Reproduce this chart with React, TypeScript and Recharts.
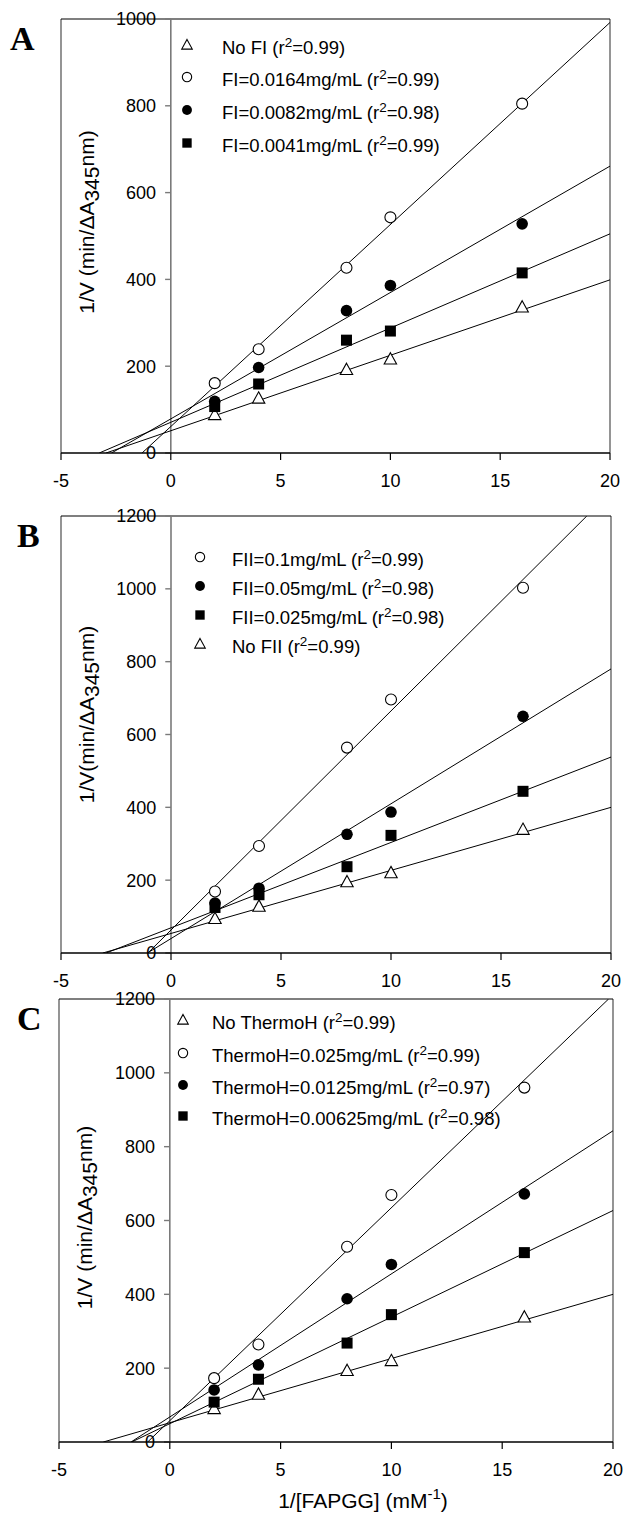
import React from 'react';
import { ComposedChart, Scatter, XAxis, YAxis, ReferenceLine } from 'recharts';

const FONT = '"Liberation Sans", Arial, Helvetica, sans-serif';
const SERIF = '"Liberation Serif", "Times New Roman", serif';

// substrate: 1/[FAPGG] (mM^-1)
const substrate = [2, 4, 8, 10, 16];
const xTicks = [-5, 0, 5, 10, 15, 20];
const yTicks1000 = [0, 200, 400, 600, 800, 1000];
const yTicks1200 = [0, 200, 400, 600, 800, 1000, 1200];

// Panel A - FI
const noFI = [88, 126, 192, 216, 336];
const fi0164 = [161, 239, 427, 543, 805];
const fi0082 = [119, 197, 328, 386, 528];
const fi0041 = [107, 159, 260, 281, 415];
const fitNoFI = [[-2.95, 0], [20, 399]];
const fitFI0164 = [[-1.31, 0], [20, 992]];
const fitFI0082 = [[-2.7, 0], [20, 661]];
const fitFI0041 = [[-3.26, 0], [20, 505]];

// Panel B - FII
const fii01 = [169, 294, 564, 696, 1003];
const fii005 = [137, 178, 326, 387, 650];
const fii0025 = [125, 160, 237, 323, 444];
const noFII = [94, 128, 195, 220, 339];
const fitFII01 = [[-1.05, 0], [18.9, 1200]];
const fitFII005 = [[-1.07, 0], [20, 780]];
const fitFII0025 = [[-2.95, 0], [20, 538]];
const fitNoFII = [[-3.1, 0], [20, 400]];

// Panel C - ThermoH
const noThermo = [90, 129, 193, 220, 338];
const thermo025 = [173, 264, 529, 669, 960];
const thermo0125 = [141, 209, 388, 481, 672];
const thermo00625 = [108, 170, 268, 345, 513];
const fitNoThermo = [[-3.0, 0], [20, 400]];
const fitThermo025 = [[-1.0, 0], [19.8, 1200]];
const fitThermo0125 = [[-1.75, 0], [20, 843]];
const fitThermo00625 = [[-1.72, 0], [20, 627]];

type Kind = 'triangle' | 'circle' | 'disc' | 'square';

interface SeriesDef {
  name: string;
  r2: string;
  kind: Kind;
  values: number[];
  fit: number[][];
}

const toPoints = (values: number[]) => substrate.map((x, i) => ({ x, y: values[i] }));
const toFit = (pts: number[][]) => pts.map(([x, y]) => ({ x, y }));

function Marker({ kind, cx, cy, s = 1 }: { kind: Kind; cx: number; cy: number; s?: number }) {
  if (kind === 'triangle') {
    return (
      <path
        d={`M${cx},${cy - 6.5 * s} L${cx + 6.2 * s},${cy + 4.8 * s} L${cx - 6.2 * s},${cy + 4.8 * s} Z`}
        fill="#fff"
        stroke="#000"
        strokeWidth={1.1}
      />
    );
  }
  if (kind === 'circle') {
    return <circle cx={cx} cy={cy} r={5.5 * s} fill="#fff" stroke="#000" strokeWidth={1.1} />;
  }
  if (kind === 'disc') {
    return <circle cx={cx} cy={cy} r={5.8 * s} fill="#000" />;
  }
  return <rect x={cx - 5.5 * s} y={cy - 5.5 * s} width={11 * s} height={11 * s} fill="#000" />;
}

function YTitle({ viewBox, gap, shift }: any) {
  const { x, y, height } = viewBox;
  return (
    <text
      transform={`translate(${x + 33},${y + height / 2 + shift}) rotate(-90)`}
      textAnchor="middle"
      fontSize={21}
      fontFamily={FONT}
      fill="#000"
    >
      {`1/V${gap}(min/\u0394A`}
      <tspan dy={5}>345</tspan>
      <tspan dy={-5}>nm)</tspan>
    </text>
  );
}

function XTitle({ viewBox }: any) {
  const { x, y, width } = viewBox;
  return (
    <text x={x + width / 2 + 27} y={y + 66} textAnchor="middle" fontSize={21} fontFamily={FONT} fill="#000">
      1/[FAPGG] (mM
      <tspan dy={-9} fontSize={15}>-1</tspan>
      <tspan dy={9}>)</tspan>
    </text>
  );
}

interface PanelProps {
  letter: string;
  top: number;
  height: number;
  margin: { top: number; right: number; bottom: number; left: number };
  yMax: number;
  yTicks: number[];
  series: SeriesDef[];
  gap: string;
  titleShift: number;
  xTitle?: boolean;
  legend: { markerX: number; textX: number; rows: number[] };
  letterPos: { left: number; baseline: number };
}

function Panel({ letter, top, height, margin, yMax, yTicks, series, gap, titleShift, xTitle, legend, letterPos }: PanelProps) {
  const grey = '#7a7a7a';
  return (
    <div style={{ position: 'absolute', left: 0, top, width: 626, height, background: '#fff' }}>
      <ComposedChart width={626} height={height} margin={margin}>
        <XAxis
          type="number"
          dataKey="x"
          domain={[-5, 20]}
          ticks={xTicks}
          allowDataOverflow
          height={30}
          axisLine={{ stroke: '#000', strokeWidth: 1.4 }}
          tickLine={{ stroke: '#000', strokeWidth: 1.2 }}
          tickSize={7}
          tickMargin={14}
          tick={{ fill: '#000', fontSize: 18, fontFamily: FONT }}
          label={xTitle ? <XTitle /> : undefined}
        />
        <YAxis type="number" dataKey="y" domain={[0, yMax]} allowDataOverflow hide />

        {/* frame: left / right in grey, top in black */}
        <ReferenceLine x={-5} stroke={grey} strokeWidth={1.6} label={<YTitle gap={gap} shift={titleShift} />} />
        <ReferenceLine x={20} stroke={grey} strokeWidth={1.6} />
        <ReferenceLine y={yMax} stroke="#000" strokeWidth={1.2} />

        {/* y axis drawn at x = 0 */}
        <ReferenceLine x={0} stroke={grey} strokeWidth={1.6} />
        {yTicks.map((v) => (
          <ReferenceLine
            key={`yt-${v}`}
            segment={[
              { x: -0.26, y: v },
              { x: 0, y: v },
            ]}
            stroke={grey}
            strokeWidth={1.4}
            label={{ value: String(v), position: 'left', offset: 9, fill: '#000', fontSize: 18, fontFamily: FONT }}
          />
        ))}

        {series.map((s) => (
          <Scatter
            key={`fit-${s.name}`}
            data={toFit(s.fit)}
            line={{ stroke: '#000', strokeWidth: 1 }}
            shape={() => <g />}
            isAnimationActive={false}
          />
        ))}
        {series.map((s) => (
          <Scatter
            key={`pts-${s.name}`}
            data={toPoints(s.values)}
            shape={(p: any) => <Marker kind={s.kind} cx={p.cx} cy={p.cy} />}
            isAnimationActive={false}
          />
        ))}
      </ComposedChart>

      {series.map((s, i) => (
        <div
          key={`lg-${s.name}`}
          style={{
            position: 'absolute',
            left: legend.textX,
            top: legend.rows[i] - top - 11,
            height: 22,
            lineHeight: '22px',
            fontSize: 18.5,
            fontFamily: FONT,
            color: '#000',
            whiteSpace: 'nowrap',
          }}
        >
          <svg
            width={16}
            height={16}
            style={{ position: 'absolute', left: legend.markerX - legend.textX - 8, top: 0 }}
          >
            <Marker kind={s.kind} cx={8} cy={8} s={0.85} />
          </svg>
          {s.name} (r<sup style={{ fontSize: 13.5, lineHeight: 0, verticalAlign: '0.5em' }}>2</sup>={s.r2})
        </div>
      ))}

      <div
        style={{
          position: 'absolute',
          left: letterPos.left,
          top: letterPos.baseline - top - 31,
          fontFamily: SERIF,
          fontWeight: 'bold',
          fontSize: 34,
          lineHeight: '34px',
          color: '#000',
        }}
      >
        {letter}
      </div>
    </div>
  );
}

const seriesA: SeriesDef[] = [
  { name: 'No FI', r2: '0.99', kind: 'triangle', values: noFI, fit: fitNoFI },
  { name: 'FI=0.0164mg/mL', r2: '0.99', kind: 'circle', values: fi0164, fit: fitFI0164 },
  { name: 'FI=0.0082mg/mL', r2: '0.98', kind: 'disc', values: fi0082, fit: fitFI0082 },
  { name: 'FI=0.0041mg/mL', r2: '0.99', kind: 'square', values: fi0041, fit: fitFI0041 },
];

const seriesB: SeriesDef[] = [
  { name: 'FII=0.1mg/mL', r2: '0.99', kind: 'circle', values: fii01, fit: fitFII01 },
  { name: 'FII=0.05mg/mL', r2: '0.98', kind: 'disc', values: fii005, fit: fitFII005 },
  { name: 'FII=0.025mg/mL', r2: '0.98', kind: 'square', values: fii0025, fit: fitFII0025 },
  { name: 'No FII', r2: '0.99', kind: 'triangle', values: noFII, fit: fitNoFII },
];

const seriesC: SeriesDef[] = [
  { name: 'No ThermoH', r2: '0.99', kind: 'triangle', values: noThermo, fit: fitNoThermo },
  { name: 'ThermoH=0.025mg/mL', r2: '0.99', kind: 'circle', values: thermo025, fit: fitThermo025 },
  { name: 'ThermoH=0.0125mg/mL', r2: '0.97', kind: 'disc', values: thermo0125, fit: fitThermo0125 },
  { name: 'ThermoH=0.00625mg/mL', r2: '0.98', kind: 'square', values: thermo00625, fit: fitThermo00625 },
];

export default function App() {
  return (
    <div style={{ position: 'absolute', left: 0, top: 0, width: 626, height: 1518, background: '#fff', overflow: 'hidden' }}>
      <Panel
        letter="A"
        top={0}
        height={503}
        margin={{ top: 19, right: 16, bottom: 20, left: 61 }}
        yMax={1000}
        yTicks={yTicks1000}
        series={seriesA}
        gap=" "
        titleShift={-14}
        legend={{ markerX: 187, textX: 222, rows: [48, 80, 113, 146] }}
        letterPos={{ left: 10, baseline: 53 }}
      />
      <Panel
        letter="B"
        top={503}
        height={488}
        margin={{ top: 13, right: 15, bottom: 8, left: 61 }}
        yMax={1200}
        yTicks={yTicks1200}
        series={seriesB}
        gap=""
        titleShift={-20}
        legend={{ markerX: 200, textX: 232, rows: [560, 589, 618, 647] }}
        letterPos={{ left: 17, baseline: 550 }}
      />
      <Panel
        letter="C"
        top={990}
        height={528}
        margin={{ top: 9, right: 13, bottom: 46, left: 59 }}
        yMax={1200}
        yTicks={yTicks1200}
        series={seriesC}
        gap=" "
        titleShift={-3}
        xTitle
        legend={{ markerX: 183, textX: 212, rows: [1023, 1056, 1088, 1119] }}
        letterPos={{ left: 17, baseline: 1033 }}
      />
    </div>
  );
}
